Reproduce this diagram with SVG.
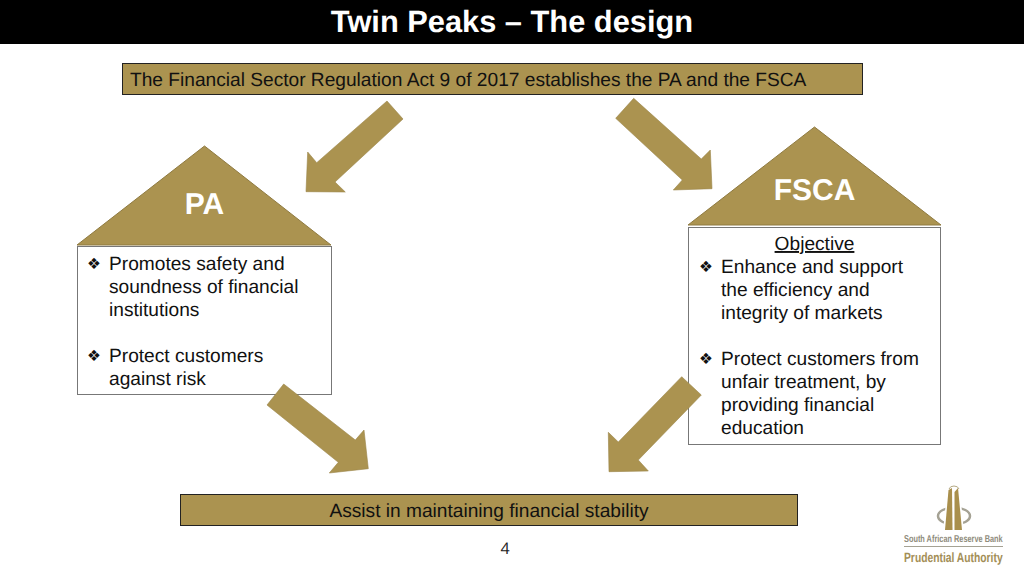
<svg xmlns="http://www.w3.org/2000/svg" width="1024" height="576" viewBox="0 0 1024 576">
<style>
text{font-family:"Liberation Sans",Arial,sans-serif;fill:#000;text-rendering:geometricPrecision}
.b{font-size:19.150px;fill:#111}
.bar{fill:#ab9350;stroke:#222;stroke-width:1}
.roof{fill:#ab9350;stroke:#8f7a40;stroke-width:1}
.box{fill:#fff;stroke:#777;stroke-width:1}
.arrow{fill:#ab9350;stroke:#9a8548;stroke-width:.6}
.bul{font-family:"DejaVu Sans",sans-serif;font-size:15.500px;fill:#111}
.h{font-size:30px;font-weight:bold;fill:#fff;text-anchor:middle}
</style>
<rect width="1024" height="576" fill="#fff"/>
<g id="title"><rect width="1024" height="44" fill="#000"/><text x="512" y="32" text-anchor="middle" style="font-size:30.800px;font-weight:bold;fill:#fff">Twin Peaks – The design</text></g>
<g id="act"><rect class="bar" x="122.500" y="63.500" width="740" height="31"/><text class="b" x="130" y="86">The Financial Sector Regulation Act 9 of 2017 establishes the PA and the FSCA</text></g>
<g id="pa">
<polygon class="roof" points="204.500,146 331,245 77,245"/>
<text class="h" x="204.500" y="214">PA</text>
<rect class="box" x="77.500" y="246.500" width="254" height="148"/>
<text class="bul" x="87" y="269">❖</text>
<text class="b"><tspan x="109" y="270">Promotes safety and</tspan><tspan x="109" y="293">soundness of financial</tspan><tspan x="109" y="316">institutions</tspan></text>
<text class="bul" x="87" y="361">❖</text>
<text class="b"><tspan x="109" y="362">Protect customers</tspan><tspan x="109" y="385">against risk</tspan></text>
</g>
<g id="fsca">
<polygon class="roof" points="814.500,127 941,225 688,225"/>
<text class="h" x="814.500" y="200">FSCA</text>
<rect class="box" x="688.500" y="227.500" width="252" height="217"/>
<text class="b" x="814.500" y="250" text-anchor="middle" text-decoration="underline">Objective</text>
<text class="bul" x="699" y="272">❖</text>
<text class="b"><tspan x="721" y="273">Enhance and support</tspan><tspan x="721" y="296">the efficiency and</tspan><tspan x="721" y="319">integrity of markets</tspan></text>
<text class="bul" x="699" y="364">❖</text>
<text class="b"><tspan x="721" y="365">Protect customers from</tspan><tspan x="721" y="388">unfair treatment, by</tspan><tspan x="721" y="411">providing financial</tspan><tspan x="721" y="434">education</tspan></text>
</g>
<g id="connectors">
<polygon class="arrow" points="387,101 403,119 335,182 345.300,192 306,191.700 307.700,152 316.700,162.700"/>
<polygon class="arrow" points="633.700,98.300 615.700,118.300 682.300,180 673.300,190 712,188.700 710.300,150 701.300,159"/>
<polygon class="arrow" points="283.700,384 267,405 338.300,462.300 329.300,473 368.300,468.700 364,430 355.300,440"/>
<polygon class="arrow" points="681.700,376.700 701.300,395 638.300,460 648.300,471 609,471.700 608.300,432.300 618.300,442"/>
</g>
<g id="stability"><rect class="bar" x="180.500" y="494.500" width="617" height="31"/><text class="b" x="489" y="517" text-anchor="middle">Assist in maintaining financial stability</text></g>
<g id="page"><text x="505" y="554" text-anchor="middle" style="font-family:'Open Sans',sans-serif;font-size:16px;fill:#222">4</text></g>
<g id="logo">
<ellipse cx="954" cy="516" rx="16" ry="8.500" fill="none" stroke="#a5a294" stroke-width="2.500"/>
<path d="M943 532 L947 491 Q949 485 954 485 Q959 485 960 491 L964 532 Z" fill="#fff"/>
<path d="M945 530 L948.500 490 L952 488 L952.500 530 Z" fill="#a98f4c"/>
<path d="M954.500 530 L954.500 492 L958 488 L962 530 Z" fill="#a98f4c"/>
<path d="M949 489 Q950 486 954 486 Q958 486 959 489" fill="none" stroke="#b5aa85" stroke-width="1"/>
<text transform="translate(904 541.500) scale(.736 1)" style="font-size:10px;font-weight:bold;fill:#8f8c7c">South African Reserve Bank</text>
<rect x="904" y="546" width="99" height="1" fill="#a5a294"/>
<text transform="translate(904 561.500) scale(.763 1)" style="font-size:13.500px;font-weight:bold;fill:#a38e56">Prudential Authority</text>
</g>
</svg>
